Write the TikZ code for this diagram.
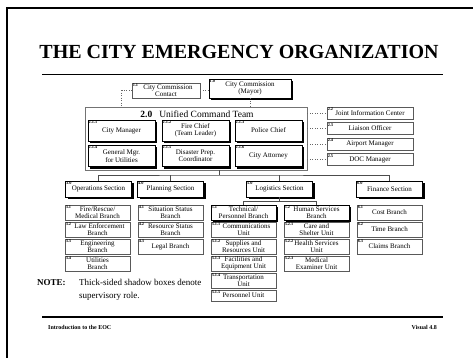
\documentclass[tikz,border=0pt]{standalone}
\usepackage{fontspec}
\setmainfont{Liberation Serif}
\usetikzlibrary{shadows}

\begin{document}
\begin{tikzpicture}[x=1pt,y=-1pt,
  boxfont/.style={font=\fontsize{7}{7.4}\selectfont},
  unit/.style={boxfont, draw=black!65, line width=0.5pt, fill=white,
    align=center, inner sep=0pt},
  chief/.style={boxfont, draw=black, line width=0.7pt, fill=white,
    align=center, inner sep=0pt,
    drop shadow={shadow xshift=2pt, shadow yshift=-2pt, fill=black, draw=none, opacity=1}},
  num/.style={font=\fontsize{4.3}{4.3}\selectfont\bfseries, inner sep=0.8pt, anchor=north west},
  no/.style={label={[num]north west:#1}},
  br/.style={minimum width=65pt, minimum height=15pt},
  sec/.style={minimum width=66pt, minimum height=16pt},
  uc/.style={minimum width=67pt, minimum height=21pt},
  staff/.style={minimum width=86pt, minimum height=12pt},
  panel/.style={draw=black!55, line width=0.5pt},
  dotline/.style={draw=black!60, line width=0.5pt, dotted},
  link/.style={draw=black!70, line width=0.5pt},
  notefont/.style={font=\fontsize{9}{11}\selectfont, inner sep=0pt}
]
\useasboundingbox (0,0) rectangle (473,358);
\clip (0,0) rectangle (473,358);

% page frame
\draw[line width=2.5pt] (7,365) -- (7,8) -- (480,8);

% heading and rule
\node[font=\fontsize{20}{22}\selectfont\bfseries, anchor=base, inner sep=0pt] (title)
  at (239,59) {THE CITY EMERGENCY ORGANIZATION};
\coordinate (ruleL) at (42,74);
\coordinate (ruleR) at (443,74);
\draw[line width=0.6pt] (ruleL) -- (ruleR);

% city commission
\node[unit, minimum width=68pt, minimum height=15pt, no=1.1] (contact) at (166,90.5)
  {\hspace*{4pt}City Commission\\Contact};
\node[chief, minimum width=82pt, minimum height=19pt, no=1.0] (mayor) at (250,88.5)
  {City Commission\\(Mayor)};

% unified command team
\node[panel, minimum width=222pt, minimum height=63pt] (uct) at (196,138.5) {};
\node[font=\fontsize{9.5}{10}\selectfont, inner sep=0pt] (ucttitle) at (197,114)
  {\textbf{2.0}\hspace{7pt}Unified Command Team};

\node[chief, uc, no=2.1.1] (cm)  at (121.5,130.5) {City Manager};
\node[chief, uc, no=2.1.2] (fc)  at (195.5,130.5) {Fire Chief\\(Team Leader)};
\node[chief, uc, no=2.1.3] (pc)  at (268.5,130.5) {Police Chief};
\node[chief, uc, no=2.1.4] (gm)  at (121.5,156) {General Mgr.\\for Utilities};
\node[chief, uc, no=2.1.5] (dp)  at (195.5,156) {Disaster Prep.\\Coordinator};
\node[chief, uc, no=2.1.6] (ca)  at (268.5,156) {City Attorney};

% staff positions
\node[unit, staff, no=2.2] (jic) at (370,113)   {Joint Information Center};
\node[unit, staff, no=2.3] (lo)  at (370,128.5) {Liaison Officer};
\node[unit, staff, no=2.4] (am)  at (370,144)   {Airport Manager};
\node[unit, staff, no=2.5] (doc) at (370,159.5) {DOC Manager};

% advisory links
\draw[dotline] (contact.east) -- (contact.east -| mayor.west);
\draw[dotline] (contact.west) -| (cm.north |- uct.north);
\draw[dotline] (mayor.south) -- (mayor.south |- uct.north);
\foreach \s in {jic,lo,am,doc}
  \draw[dotline] (\s.west -| uct.east) -- (\s.west);

% sections
\node[chief, sec, no=3.0] (ops)  at (98.5,189)  {Operations Section};
\node[chief, sec, no=4.0] (plan) at (170.5,189) {Planning Section};
\node[chief, sec, no=5.0] (log)  at (279.5,189) {Logistics Section};
\node[chief, sec, no=6.0] (fin)  at (389.5,189) {Finance Section};

\coordinate (bus) at (219,175);
\draw[link] (bus |- uct.south) -- (bus);
\draw[link] (ops.north) |- (bus) -| (fin.north);
\draw[link] (plan.north) -- (plan.north |- bus);
\draw[link] (log.north) -- (log.north |- bus);

% operations branches
\node[unit, br, no=3.1] (b31) at (97.5,212.5) {Fire/Rescue/\\Medical Branch};
\node[unit, br, no=3.2] (b32) at (97.5,229.5) {\hspace*{4pt}Law Enforcement\\Branch};
\node[unit, br, no=3.3] (b33) at (97.5,246.5) {Engineering\\Branch};
\node[unit, br, no=3.4] (b34) at (97.5,263.5) {Utilities\\Branch};

% planning branches
\node[unit, br, no=4.1] (b41) at (170.5,212.5) {Situation Status\\Branch};
\node[unit, br, no=4.2] (b42) at (170.5,229.5) {Resource Status\\Branch};
\node[unit, br, no=4.3] (b43) at (170.5,246.5) {Legal Branch};

% logistics branches and units
\node[chief, br, no=5.1] (b51) at (243.5,212.5) {Technical/\\Personnel Branch};
\node[chief, br, no=5.2] (b52) at (316.5,212.5) {Human Services\\Branch};
\coordinate (lbus) at (279.5,201.5);
\draw[link] (log.south) -- (lbus);
\draw[link] (b51.north) |- (lbus) -| (b52.north);

\node[unit, br, no=5.1.1] (u511) at (243.5,229.5) {\hspace*{6pt}Communications\\Unit};
\node[unit, br, no=5.1.2] (u512) at (243.5,246.5) {Supplies and\\Resources Unit};
\node[unit, br, no=5.1.3] (u513) at (243.5,263.5) {Facilities and\\Equipment Unit};
\node[unit, br, no=5.1.4] (u514) at (243.5,280.5) {Transportation\\Unit};
\node[unit, minimum width=65pt, minimum height=11pt, no=5.1.5] (u515) at (243.5,295.5) {Personnel Unit};

\node[unit, br, no=5.2.1] (u521) at (316.5,229.5) {Care and\\Shelter Unit};
\node[unit, br, no=5.2.2] (u522) at (316.5,246.5) {Health Services\\Unit};
\node[unit, br, no=5.2.3] (u523) at (316.5,263.5) {Medical\\Examiner Unit};

% finance branches
\node[unit, br, no=6.1] (b61) at (389.5,212.5) {Cost Branch};
\node[unit, br, no=6.2] (b62) at (389.5,229.5) {Time Branch};
\node[unit, br, no=6.3] (b63) at (389.5,246.5) {Claims Branch};

% note
\node[notefont, anchor=base west] (notelabel) at (37,285) {\textbf{NOTE:}};
\node[notefont, anchor=base west] (note1) at (79,285) {Thick-sided shadow boxes denote};
\node[notefont, anchor=base west] (note2) at (79,298) {supervisory role.};

% footer
\coordinate (footL) at (42,317);
\coordinate (footR) at (443,317);
\draw[line width=1.2pt] (footL) -- (footR);
\node[font=\fontsize{6}{7}\selectfont\bfseries, anchor=base west, inner sep=0pt] (course)
  at (48,329) {Introduction to the EOC};
\node[font=\fontsize{6}{7}\selectfont\bfseries, anchor=base east, inner sep=0pt] (visual)
  at (437,329) {Visual 4.8};
\end{tikzpicture}
\end{document}
